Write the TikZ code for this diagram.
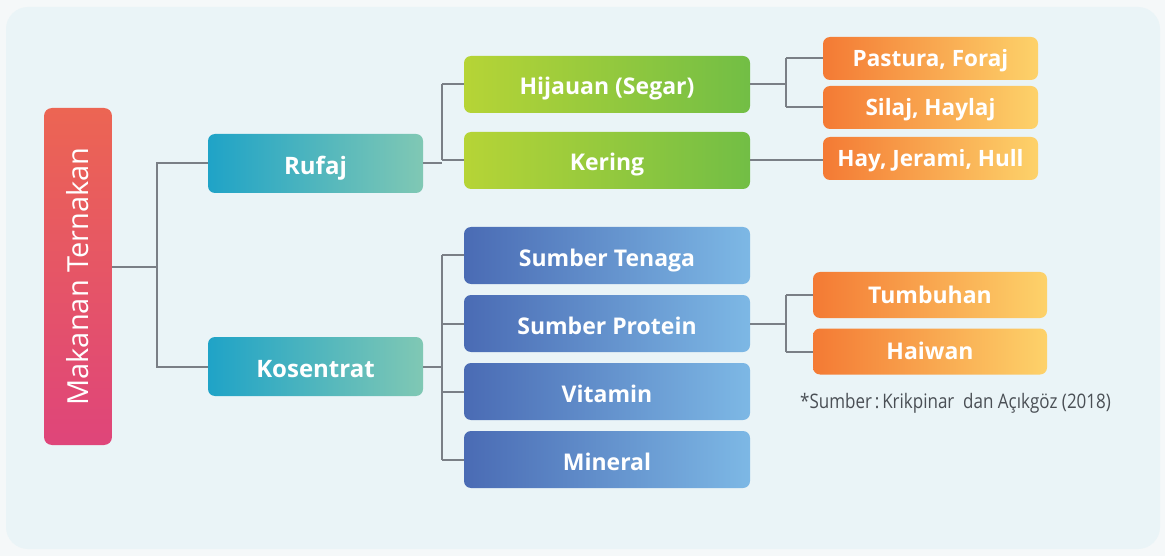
\documentclass[tikz,border=0pt]{standalone}
\usepackage{fontspec}
\usepackage{graphicx}
\setmainfont{Open Sans}
\definecolor{bgout}{HTML}{F5F8F9}
\definecolor{panel}{HTML}{EAF4F7}
\definecolor{conncol}{HTML}{7A7F86}
\definecolor{rootT}{HTML}{EC6553}
\definecolor{rootB}{HTML}{DF457A}
\definecolor{tealL}{HTML}{1FA3C7}
\definecolor{tealR}{HTML}{80C8B4}
\definecolor{greenL}{HTML}{B6D436}
\definecolor{greenR}{HTML}{72BE45}
\definecolor{blueL}{HTML}{4A6BB4}
\definecolor{blueR}{HTML}{7DB8E5}
\definecolor{orL}{HTML}{F47A34}
\definecolor{orR}{HTML}{FDD26A}
\definecolor{notecol}{HTML}{4A4F55}
\tikzset{
  box/.style={rounded corners=7pt, inner sep=0pt, text=white, text depth=0pt, text height=21pt, font=\bfseries\fontsize{23}{27}\selectfont},
  tealbox/.style={box, left color=tealL, right color=tealR, minimum width=215pt, minimum height=59pt, text height=22pt, font=\bfseries\fontsize{24}{28}\selectfont},
  greenbox/.style={box, left color=greenL, right color=greenR, minimum width=286pt, minimum height=57pt},
  bluebox/.style={box, left color=blueL, right color=blueR, minimum width=286pt, minimum height=57pt},
  orbox/.style={box, left color=orL, right color=orR, minimum width=215pt, minimum height=43pt, text height=16pt, font=\bfseries\fontsize{22.5}{26}\selectfont},
  orbox2/.style={box, left color=orL, right color=orR, minimum width=234pt, minimum height=46pt, text height=16.5pt},
  conn/.style={draw=conncol, line width=2pt},
}
\begin{document}
\begin{tikzpicture}[x=1pt,y=-1pt]
\fill[bgout] (0,0) rectangle (1165,556);
\fill[panel, rounded corners=22pt] (6,7) rectangle (1160,549);
\useasboundingbox (0,0) rectangle (1165,556);

\coordinate (j1) at (157,267);
\coordinate (j2) at (442,0);
\coordinate (j3) at (442,0);
\coordinate (j4) at (786,0);
\coordinate (j5) at (786,0);

% nodes
\node[rounded corners=8pt, inner sep=0pt, top color=rootT, bottom color=rootB, minimum width=68pt, minimum height=337pt] (root) at (78,276.5) {};
\node[text=white, font=\fontsize{29}{34}\selectfont, rotate=90] (rootlabel) at (root.center) {Makanan Ternakan};

\node[tealbox] (rufaj) at (315.5,163.5) {Rufaj};
\node[tealbox] (kos) at (315.5,366.5) {Kosentrat};

\node[greenbox] (hij) at (607,84.5) {Hijauan (Segar)};
\node[greenbox] (ker) at (607,160.5) {Kering};

\node[bluebox] (ten) at (607,255.5) {Sumber Tenaga};
\node[bluebox] (pro) at (607,323.5) {Sumber Protein};
\node[bluebox] (vit) at (607,391.5) {Vitamin};
\node[bluebox] (min) at (607,459.5) {Mineral};

\node[orbox] (pas) at (930.5,58.5) {Pastura, Foraj};
\node[orbox] (sil) at (930.5,107.5) {Silaj, Haylaj};
\node[orbox] (hay) at (930.5,158.5) {Hay, Jerami, Hull};

\node[orbox2] (tum) at (930,295) {Tumbuhan};
\node[orbox2] (hai) at (930,351.5) {Haiwan};

\node[text=notecol, font=\fontsize{20}{24}\selectfont, anchor=west, inner sep=0pt] (note) at (800,403)
  {\scalebox{0.85}[1]{*Sumber\,:\,Krikpinar\ \ dan Açıkgöz (2018)}};

% connectors
\draw[conn] (root.east |- j1) -- (j1);
\draw[conn] (j1) |- (rufaj.west);
\draw[conn] (j1) |- (kos.west);

\draw[conn] (rufaj.east) -- (j2 |- rufaj.east);
\draw[conn] (j2 |- hij.west) -- (j2 |- ker.west);
\draw[conn] (j2 |- hij.west) -- (hij.west);
\draw[conn] (j2 |- ker.west) -- (ker.west);

\draw[conn] (kos.east) -- (j3 |- kos.east);
\draw[conn] (j3 |- ten.west) -- (j3 |- min.west);
\draw[conn] (j3 |- ten.west) -- (ten.west);
\draw[conn] (j3 |- pro.west) -- (pro.west);
\draw[conn] (j3 |- vit.west) -- (vit.west);
\draw[conn] (j3 |- min.west) -- (min.west);

\draw[conn] (hij.east) -- (j4 |- hij.east);
\draw[conn] (j4 |- pas.west) -- (j4 |- sil.west);
\draw[conn] (j4 |- pas.west) -- (pas.west);
\draw[conn] (j4 |- sil.west) -- (sil.west);
\draw[conn] (ker.east) -- (hay.west |- ker.east);

\draw[conn] (pro.east) -- (j5 |- pro.east);
\draw[conn] (j5 |- tum.west) -- (j5 |- hai.west);
\draw[conn] (j5 |- tum.west) -- (tum.west);
\draw[conn] (j5 |- hai.west) -- (hai.west);
\end{tikzpicture}
\end{document}
